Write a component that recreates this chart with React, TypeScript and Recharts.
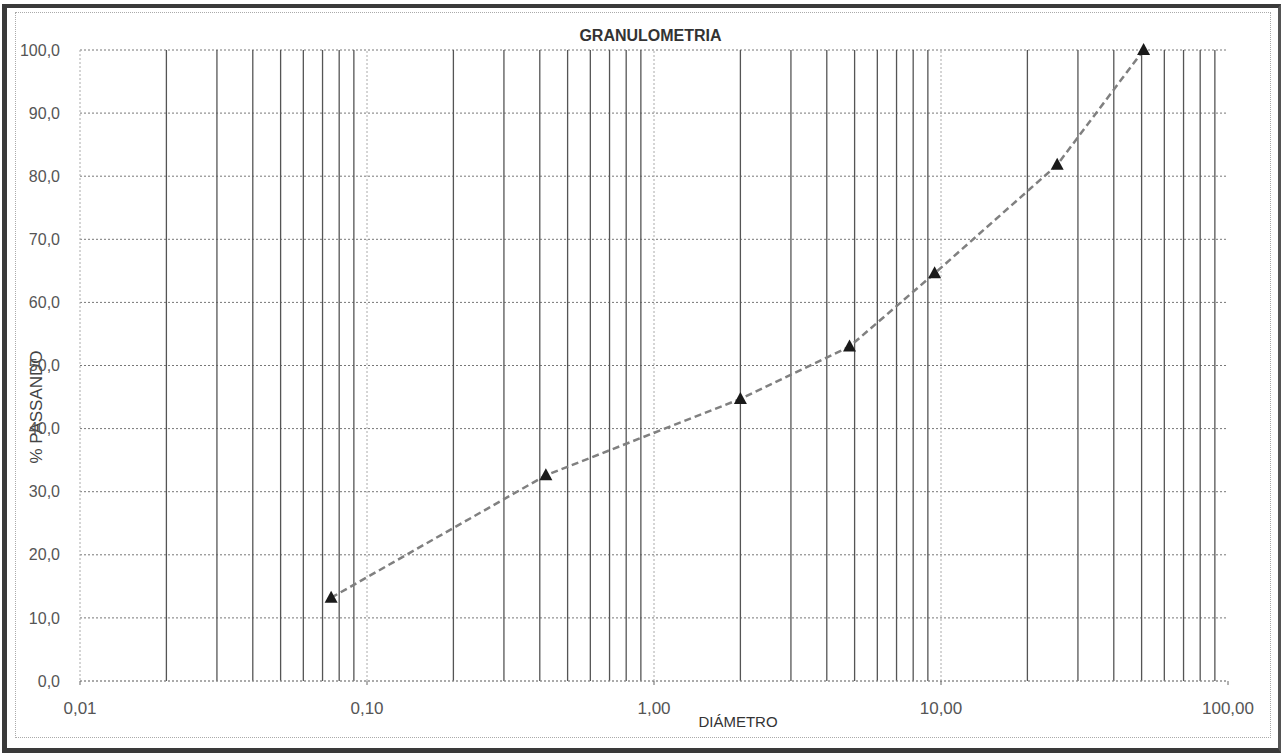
import React from 'react';
import {
  LineChart,
  Line,
  XAxis,
  YAxis,
  CartesianGrid,
  ReferenceLine,
} from 'recharts';

// sieve openings (mm) and % passing
const diameters = [0.075, 0.42, 2.0, 4.8, 9.5, 25.4, 50.8];
const passing = [13.2, 32.6, 44.7, 53.0, 64.6, 81.8, 100.0];

const xTicks = [0.01, 0.1, 1, 10, 100];
const yTicks = [0, 10, 20, 30, 40, 50, 60, 70, 80, 90, 100];
const decades = [0.01, 0.1, 1, 10];
const multipliers = [2, 3, 4, 5, 6, 7, 8, 9];

const data = diameters.map((d, i) => ({ d, p: passing[i] }));
const minorLines = decades.flatMap((dec) => multipliers.map((m) => +(dec * m).toPrecision(3)));
const decadeLines = [0.1, 1, 10];

const font = '"Liberation Sans", Arial, sans-serif';

const fmtX = (v: number) => v.toFixed(2).replace('.', ',');
const fmtY = (v: number) => v.toFixed(1).replace('.', ',');

const Triangle = (props: any) => {
  const { cx, cy } = props;
  if (cx == null || cy == null) return null;
  return (
    <path
      d={`M${cx},${cy - 7} L${cx + 6.5},${cy + 5} L${cx - 6.5},${cy + 5} Z`}
      fill="#1a1a1a"
    />
  );
};

export default function App() {
  return (
    <div
      style={{
        position: 'absolute',
        left: 0,
        top: 0,
        width: 1281,
        height: 754,
        background: '#fff',
        fontFamily: font,
        overflow: 'hidden',
      }}
    >
      {/* outer frame */}
      <div
        style={{
          position: 'absolute',
          left: 2,
          top: 4,
          width: 1271,
          height: 740,
          borderLeft: '5px solid #3a3a3a',
          borderTop: '4px solid #3a3a3a',
          borderBottom: '5px solid #3a3a3a',
          borderRight: '3px solid #555',
        }}
      />
      {/* inner dotted frame */}
      <div
        style={{
          position: 'absolute',
          left: 15,
          top: 12,
          width: 1254,
          height: 724,
          border: '1px dotted #aaa',
        }}
      />
      <div
        style={{
          position: 'absolute',
          left: 0,
          top: 27,
          width: 1281,
          textAlign: 'center',
          fontWeight: 'bold',
          fontSize: 16,
          color: '#333',
          paddingLeft: 20,
          boxSizing: 'border-box',
        }}
      >
        GRANULOMETRIA
      </div>
      <div
        style={{
          position: 'absolute',
          left: 37,
          top: 407,
          transform: 'translate(-50%, -50%) rotate(-90deg)',
          fontSize: 17,
          color: '#444',
          whiteSpace: 'nowrap',
        }}
      >
        % PASSANDO
      </div>
      <div
        style={{
          position: 'absolute',
          left: 738,
          top: 713,
          transform: 'translateX(-50%)',
          fontSize: 15,
          color: '#333',
        }}
      >
        DIÁMETRO
      </div>
      <div style={{ position: 'absolute', left: 0, top: 0 }}>
        <LineChart
          width={1281}
          height={754}
          data={data}
          margin={{ top: 50, right: 53, bottom: 43, left: 20 }}
        >
          <CartesianGrid
            vertical={false}
            stroke="#777"
            strokeDasharray="2 2"
          />
          {minorLines.map((v) => (
            <ReferenceLine key={`m${v}`} x={v} stroke="#555" strokeWidth={1.3} />
          ))}
          {decadeLines.map((v) => (
            <ReferenceLine key={`d${v}`} x={v} stroke="#aaa" strokeDasharray="2 2" />
          ))}
          <XAxis
            dataKey="d"
            type="number"
            scale="log"
            domain={[0.01, 100]}
            ticks={xTicks}
            allowDataOverflow
            tickFormatter={fmtX}
            height={30}
            axisLine={{ stroke: '#999', strokeDasharray: '2 2' }}
            tickLine={{ stroke: '#666' }}
            tickSize={4}
            tickMargin={17}
            tick={{ fill: '#555', fontSize: 17, fontFamily: font }}
          />
          <YAxis
            type="number"
            domain={[0, 100]}
            ticks={yTicks}
            tickFormatter={fmtY}
            width={60}
            axisLine={{ stroke: '#aaa', strokeDasharray: '2 2' }}
            tickLine={false}
            tickMargin={14}
            tick={{ fill: '#555', fontSize: 16, fontFamily: font }}
          />
          <Line
            type="linear"
            dataKey="p"
            stroke="#808080"
            strokeWidth={2.5}
            strokeDasharray="7 4"
            dot={<Triangle />}
            isAnimationActive={false}
          />
        </LineChart>
      </div>
    </div>
  );
}
